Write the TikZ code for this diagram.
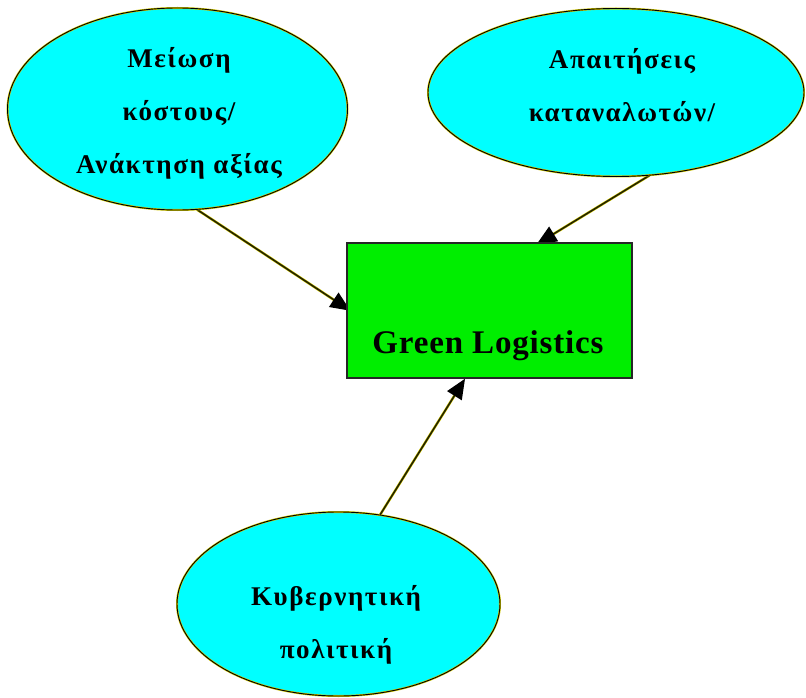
\documentclass[tikz,border=0pt]{standalone}
\usepackage{fontspec}
\setmainfont{Liberation Serif}
\usetikzlibrary{shapes.geometric,arrows.meta,calc,backgrounds}
\definecolor{cy}{RGB}{0,255,255}
\definecolor{gr}{RGB}{0,238,0}
\definecolor{edge}{RGB}{35,35,0}
\definecolor{fringe}{RGB}{210,200,0}
\begin{document}
\begin{tikzpicture}[x=1pt,y=-1pt,
  bubble/.style={ellipse, fill=cy, draw=fringe, double=black, double distance=0.9pt, line width=0.55pt, inner sep=0pt},
  greek/.style={font=\bfseries\fontsize{27}{53}\selectfont\addfontfeature{LetterSpace=6}, align=center},
  box/.style={rectangle, fill=gr, draw=black!85, line width=1.5pt, minimum width=285pt, minimum height=135pt, inner sep=0pt},
  conn/.style={draw=edge, line width=1.6pt, -{Triangle[length=20pt,width=17pt,color=black]},
    preaction={draw=fringe, line width=2.6pt, -, shorten >=12pt}}]
\useasboundingbox (0,0) rectangle (806,698);
\node[bubble, minimum width=340pt, minimum height=202pt] (m1) at (177.5,109) {};
\node[bubble, minimum width=376pt, minimum height=168pt] (m2) at (616,92.5) {};
\node[bubble, minimum width=323pt, minimum height=184pt] (m3) at (338.5,604) {};
\node[greek] (m1t) at (179,113) {Μείωση\\κόστους/\\Ανάκτηση αξίας};
\node[greek] (m2t) at (622,85) {Απαιτήσεις\\καταναλωτών/};
\node[greek] (m3t) at (336,625) {Κυβερνητική\\πολιτική};
\node[box] (g) at (489.5,310.5) {};
\node[font=\bfseries\fontsize{33}{40}\selectfont\addfontfeature{LetterSpace=2.5}, anchor=base] (gt) at (488,353) {Green Logistics};
\begin{pgfonlayer}{background}
\draw[conn, shorten >=-5pt] (m1.-79.5) -- ($(g.west)+(0,-2.5)$);
\draw[conn, shorten >=-4pt] (m2.-68.4) -- ($(g.north)+(50.5,0)$);
\end{pgfonlayer}
\draw[conn] (m3.65.5) -- ($(g.south)+(-24.5,0)$);
\end{tikzpicture}
\end{document}
